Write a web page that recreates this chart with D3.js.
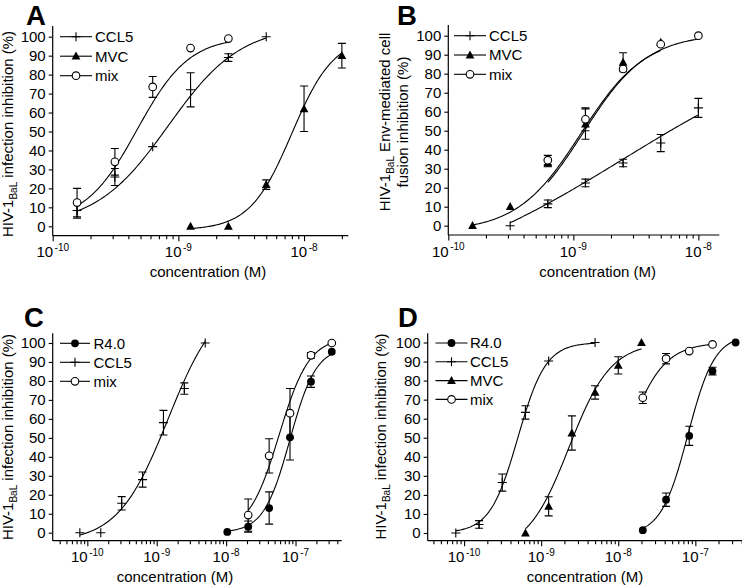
<!DOCTYPE html>
<html><head><meta charset="utf-8">
<script src="https://cdn.jsdelivr.net/npm/d3@7/dist/d3.min.js"></script>
<style>
body{margin:0;background:#fff}
text{font-family:"Liberation Sans",Arial,Helvetica,sans-serif;fill:#000}
</style>
</head><body>
<svg id="chart" width="742" height="588" xmlns="http://www.w3.org/2000/svg"></svg>
<script>
// ---------- DATA ----------
// Panel A
const aCCL5Conc = [1.5625e-10, 3.125e-10, 6.25e-10, 1.25e-9, 2.5e-9, 5e-9];
const aCCL5Val  = [8.3, 26, 42, 72, 89, 100];
const aCCL5Err  = [4, 4.5, 0, 9, 2, 0];
const aMVCConc  = [1.25e-9, 2.5e-9, 5e-9, 1e-8, 2e-8];
const aMVCVal   = [0, 0, 22, 62, 90];
const aMVCErr   = [0, 0, 2.5, 12, 6.5];
const aMixConc  = [1.5625e-10, 3.125e-10, 6.25e-10, 1.25e-9, 2.5e-9];
const aMixVal   = [12.5, 34, 73.5, 94, 99];
const aMixErr   = [7.5, 7, 5.5, 0, 0];
// fit parameters: [bottom, top, EC50, hill]
const aCCL5Fit = [0, 106, 8.3e-10, 1.5];
const aMVCFit  = [-2, 100, 8e-9, 2.6];
const aMixFit  = [2, 100, 4.7e-10, 2.1];

// Panel B
const bCCL5Conc = [3.125e-10, 6.25e-10, 1.25e-9, 2.5e-9, 5e-9, 1e-8];
const bCCL5Val  = [0, 11.5, 22.5, 33, 43.5, 62];
const bCCL5Err  = [0, 2, 2, 2, 4.5, 5];
const bMVCConc  = [1.5625e-10, 3.125e-10, 6.25e-10, 1.25e-9, 2.5e-9, 5e-9];
const bMVCVal   = [0, 10, 33, 53.5, 86, 96.5];
const bMVCErr   = [0, 0, 2, 8, 5, 0];
const bMixConc  = [6.25e-10, 1.25e-9, 2.5e-9, 5e-9, 1e-8];
const bMixVal   = [34.5, 56, 82.5, 95.5, 100];
const bMixErr   = [2.5, 6, 0, 0, 0];
const bCCL5Fit = [-35, 105, 2.5e-9, 0.5];
const bMVCFit  = [-3, 100, 1.15e-9, 1.7];
const bMixFit  = [-3, 101, 1.2e-9, 1.7];

// Panel C
const cR4Conc   = [1.04e-8, 2.08e-8, 4.17e-8, 8.33e-8, 1.67e-7, 3.33e-7];
const cR4Val    = [0.4, 3.2, 13, 50.3, 79.6, 95.4];
const cR4Err    = [0, 3, 8.5, 12, 3, 0];
const cCCL5Conc = [7.8e-11, 1.5625e-10, 3.125e-10, 6.25e-10, 1.25e-9, 2.5e-9, 5e-9];
const cCCL5Val  = [0, 0, 15.5, 28, 58, 76, 100];
const cCCL5Err  = [0, 0, 3.5, 4, 6.5, 3, 0];
const cMixConc  = [2.08e-8, 4.17e-8, 8.33e-8, 1.67e-7, 3.33e-7];
const cMixVal   = [9.3, 40.5, 63, 93.5, 100];
const cMixErr   = [8.5, 9, 13, 1.5, 0];
const cR4Fit   = [0, 98, 8.3e-8, 2.3];
const cCCL5Fit = [-5, 125, 1.46e-9, 1.2];
const cMixFit  = [0, 103, 5.8e-8, 2];

// Panel D
const dR4Conc   = [2.08e-8, 4.17e-8, 8.33e-8, 1.67e-7, 3.33e-7];
const dR4Val    = [1.5, 17.5, 51, 85, 100];
const dR4Err    = [0, 3.5, 5, 2, 0];
const dCCL5Conc = [7.8e-11, 1.5625e-10, 3.125e-10, 6.25e-10, 1.25e-9, 5e-9];
const dCCL5Val  = [0, 4.5, 26.5, 63.3, 90.3, 100];
const dCCL5Err  = [0, 2, 4.5, 3.5, 0, 0];
const dMVCConc  = [6.25e-10, 1.25e-9, 2.5e-9, 5e-9, 1e-8, 2e-8];
const dMVCVal   = [0, 14, 52.5, 73.8, 88, 100];
const dMVCErr   = [0, 5, 9, 3.5, 4.5, 0];
const dMixConc  = [2.08e-8, 4.17e-8, 8.33e-8, 1.67e-7];
const dMixVal   = [71, 91.5, 95.5, 99];
const dMixErr   = [3, 2.7, 0, 0];
const dR4Fit   = [-1, 104, 8e-8, 2.5];
const dCCL5Fit = [0, 100, 4.98e-10, 2.4];
const dMVCFit  = [-10, 100, 2.3e-9, 1.6];
const dMixFit  = [0, 100, 1.27e-8, 1.8];

const yTickValues = [0, 10, 20, 30, 40, 50, 60, 70, 80, 90, 100];
const majorAB = [1e-10, 1e-9, 1e-8];
const majorCD = [1e-10, 1e-9, 1e-8, 1e-7];
const xTitle = "concentration (M)";

// ---------- LAYOUT ----------
const panels = [
  { letter: "A", lx: 26, ly: 24.5, xDom: [1e-10, 2.25e-8], xRng: [52.7, 348.3], y0: 226.3, y100: 36.7, yTop: 26, xAxisY: 235.7,
    majors: majorAB, xtx: 208, xty: 277,
    ytitle: { x: 13, y: 134, lines: [["HIV-1", "BaL", " infection inhibition (%)"]] },
    legend: { x0: 60, x1: 92, tx: 95, y0: 36.7, dy: 19.5 },
    series: [
      { name: "CCL5", mk: "plus", conc: aCCL5Conc, val: aCCL5Val, err: aCCL5Err, fit: aCCL5Fit },
      { name: "MVC", mk: "tri", conc: aMVCConc, val: aMVCVal, err: aMVCErr, fit: aMVCFit },
      { name: "mix", mk: "open", conc: aMixConc, val: aMixVal, err: aMixErr, fit: aMixFit } ] },
  { letter: "B", lx: 397, ly: 24.5, xDom: [1e-10, 1.47e-8], xRng: [448.3, 719.3], y0: 225.7, y100: 35.7, yTop: 25, xAxisY: 235,
    majors: majorAB, xtx: 597.7, xty: 277,
    ytitle: { x: 0, y: 122, lines: [["HIV-1", "BaL", " Env-mediated cell", 390], ["fusion inhibition (%)", "", "", 408]] },
    legend: { x0: 454, x1: 486, tx: 489, y0: 35.7, dy: 19.3 },
    series: [
      { name: "CCL5", mk: "plus", conc: bCCL5Conc, val: bCCL5Val, err: bCCL5Err, fit: bCCL5Fit },
      { name: "MVC", mk: "tri", conc: bMVCConc, val: bMVCVal, err: bMVCErr, fit: bMVCFit },
      { name: "mix", mk: "open", conc: bMixConc, val: bMixVal, err: bMixErr, fit: bMixFit } ] },
  { letter: "C", lx: 24, ly: 327, xDom: [3.17e-11, 4.63e-7], xRng: [52.7, 341.7], y0: 532.7, y100: 343, yTop: 333.3, xAxisY: 540.7,
    majors: majorCD, xtx: 175, xty: 582,
    ytitle: { x: 13, y: 437, lines: [["HIV-1", "BaL", " infection inhibition (%)"]] },
    legend: { x0: 60, x1: 90, tx: 93.5, y0: 343.3, dy: 19 },
    series: [
      { name: "R4.0", mk: "fill", conc: cR4Conc, val: cR4Val, err: cR4Err, fit: cR4Fit },
      { name: "CCL5", mk: "plus", conc: cCCL5Conc, val: cCCL5Val, err: cCCL5Err, fit: cCCL5Fit },
      { name: "mix", mk: "open", conc: cMixConc, val: cMixVal, err: cMixErr, fit: cMixFit } ] },
  { letter: "D", lx: 398, ly: 327, xDom: [3.37e-11, 4.03e-7], xRng: [427.7, 742], y0: 533, y100: 342.5, yTop: 333.3, xAxisY: 540.7,
    majors: majorCD, xtx: 585, xty: 582,
    ytitle: { x: 386, y: 436.5, lines: [["HIV-1", "BaL", " infection inhibition (%)"]] },
    legend: { x0: 435.5, x1: 467.5, tx: 470, y0: 343, dy: 18.8 },
    series: [
      { name: "R4.0", mk: "fill", conc: dR4Conc, val: dR4Val, err: dR4Err, fit: dR4Fit },
      { name: "CCL5", mk: "plus", conc: dCCL5Conc, val: dCCL5Val, err: dCCL5Err, fit: dCCL5Fit },
      { name: "MVC", mk: "tri", conc: dMVCConc, val: dMVCVal, err: dMVCErr, fit: dMVCFit },
      { name: "mix", mk: "open", conc: dMixConc, val: dMixVal, err: dMixErr, fit: dMixFit } ] }
];

const svg = d3.select("#chart");
svg.append("rect").attr("width", 742).attr("height", 588).attr("fill", "#fff");

function marker(g, type, cx, cy) {
  if (type === "plus") {
    g.append("path").attr("d", `M${cx-4.5},${cy}H${cx+4.5}M${cx},${cy-4.5}V${cy+4.5}`)
      .attr("stroke", "#000").attr("stroke-width", 1.1).attr("fill", "none");
  } else if (type === "tri") {
    g.append("path").attr("d", `M${cx},${cy-4.6}L${cx+4.4},${cy+3.4}L${cx-4.4},${cy+3.4}Z`).attr("fill", "#000");
  } else if (type === "open") {
    g.append("circle").attr("cx", cx).attr("cy", cy).attr("r", 3.8)
      .attr("fill", "#fff").attr("stroke", "#000").attr("stroke-width", 1.1);
  } else {
    g.append("circle").attr("cx", cx).attr("cy", cy).attr("r", 3.9).attr("fill", "#000");
  }
}

function logistic(p, c) { return p[0] + (p[1] - p[0]) / (1 + Math.pow(p[2] / c, p[3])); }

panels.forEach(P => {
  const g = svg.append("g");
  const x = d3.scaleLog().domain(P.xDom).range(P.xRng);
  const y = d3.scaleLinear().domain([0, 100]).range([P.y0, P.y100]);

  // panel letter
  g.append("text").attr("x", P.lx).attr("y", P.ly).attr("font-size", 27.5).attr("font-weight", "bold").text(P.letter);

  // axis lines
  g.append("line").attr("x1", P.xRng[0]).attr("x2", P.xRng[0]).attr("y1", P.yTop).attr("y2", P.xAxisY)
    .attr("stroke", "#000").attr("stroke-width", 1.2);
  g.append("line").attr("x1", P.xRng[0]).attr("x2", P.xRng[1]).attr("y1", P.xAxisY).attr("y2", P.xAxisY)
    .attr("stroke", "#000").attr("stroke-width", 1.2);

  // y axis
  const yAx = d3.axisLeft(y).tickValues(yTickValues).tickSize(4).tickPadding(3).tickSizeOuter(0);
  const yg = g.append("g").attr("transform", `translate(${P.xRng[0]},0)`).call(yAx);
  yg.select(".domain").remove();
  yg.selectAll("line").attr("stroke-width", 1.1);
  yg.selectAll("text").attr("font-size", 15).attr("font-family", '"Liberation Sans",Arial,sans-serif');

  // x axis minor + major ticks
  const lo = Math.floor(Math.log10(P.xDom[0])), hi = Math.ceil(Math.log10(P.xDom[1]));
  const allTicks = [];
  for (let e = lo; e <= hi; e++) for (let k = 1; k <= 9; k++) {
    const v = k * Math.pow(10, e);
    if (v >= P.xDom[0] * 0.999 && v <= P.xDom[1]) allTicks.push(v);
  }
  const xAx = d3.axisBottom(x).tickValues(allTicks).tickFormat("").tickSizeOuter(0).tickSize(3.5);
  const xg = g.append("g").attr("transform", `translate(0,${P.xAxisY})`).call(xAx);
  xg.select(".domain").remove();
  xg.selectAll(".tick line").attr("stroke-width", 1.1)
    .attr("y2", d => Math.abs(Math.log10(d) - Math.round(Math.log10(d))) < 1e-6 ? 5.5 : 3.5);
  P.majors.forEach(v => {
    const t = g.append("text").attr("x", x(v)).attr("y", P.xAxisY + 21.5).attr("text-anchor", "middle").attr("font-size", 15);
    t.append("tspan").text("10");
    t.append("tspan").attr("font-size", 10).attr("dx", 1.5).attr("dy", -6.5).text(String(Math.round(Math.log10(v))));
  });

  // x title
  g.append("text").attr("x", P.xtx).attr("y", P.xty).attr("text-anchor", "middle").attr("font-size", 15).text(xTitle);

  // y title
  P.ytitle.lines.forEach(L => {
    const bx = L.length > 3 ? L[3] : P.ytitle.x;
    const t = g.append("text").attr("transform", `translate(${bx},${P.ytitle.y}) rotate(-90)`)
      .attr("text-anchor", "middle").attr("font-size", 15);
    t.append("tspan").text(L[0]);
    if (L[1]) {
      t.append("tspan").attr("font-size", 10).attr("dy", 4).text(L[1]);
      t.append("tspan").attr("dy", -4).text(L[2]);
    }
  });

  // curves
  const line = d3.line().x(d => x(d[0])).y(d => y(d[1])).curve(d3.curveLinear);
  P.series.forEach(s => {
    const c0 = Math.log10(s.conc[0]), c1 = Math.log10(s.conc[s.conc.length - 1]);
    const pts = d3.range(0, 121).map(i => { const c = Math.pow(10, c0 + (c1 - c0) * i / 120); return [c, logistic(s.fit, c)]; });
    g.append("path").attr("d", line(pts)).attr("fill", "none").attr("stroke", "#000").attr("stroke-width", 1.1);
  });
  // error bars
  P.series.forEach(s => {
    s.conc.forEach((c, i) => {
      const e = s.err[i];
      if (!e) return;
      const cx = x(c), ya = y(s.val[i] + e), yb = y(s.val[i] - e);
      g.append("path").attr("d", `M${cx},${ya}V${yb}M${cx-4},${ya}H${cx+4}M${cx-4},${yb}H${cx+4}`)
        .attr("stroke", "#000").attr("stroke-width", 1.1).attr("fill", "none");
    });
  });
  // markers
  P.series.forEach(s => {
    s.conc.forEach((c, i) => marker(g, s.mk, x(c), y(s.val[i])));
  });

  // legend
  P.series.forEach((s, i) => {
    const ly = P.legend.y0 + i * P.legend.dy;
    g.append("line").attr("x1", P.legend.x0).attr("x2", P.legend.x1).attr("y1", ly).attr("y2", ly)
      .attr("stroke", "#000").attr("stroke-width", 1.1);
    marker(g, s.mk, (P.legend.x0 + P.legend.x1) / 2, ly);
    g.append("text").attr("x", P.legend.tx).attr("y", ly).attr("dy", "0.36em").attr("font-size", 15).text(s.name);
  });
});
</script>
</body></html>
